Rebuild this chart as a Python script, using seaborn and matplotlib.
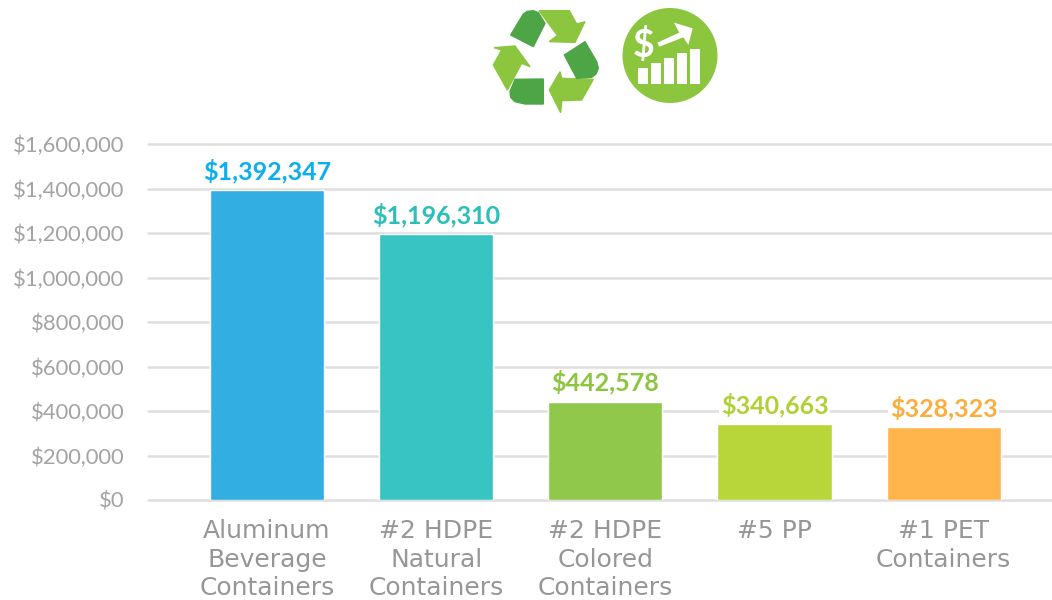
import pandas as pd
import matplotlib.pyplot as plt
from matplotlib.patches import Circle, Polygon, Rectangle
import seaborn as sns

categories = ['Aluminum\nBeverage\nContainers', '#2 HDPE\nNatural\nContainers', '#2 HDPE\nColored\nContainers',
              '#5 PP', '#1 PET\nContainers']
values = [1392347, 1196310, 442578, 340663, 328323]
value_labels = ['$1,392,347', '$1,196,310', '$442,578', '$340,663', '$328,323']
y_ticks = [0, 200000, 400000, 600000, 800000, 1000000, 1200000, 1400000, 1600000]
bar_colors = ['#33AEE3', '#38C4C3', '#90C84C', '#B8D63A', '#FFB44C']
label_colors = ['#0CAEEF', '#2CBFB8', '#8CC63F', '#B0D136', '#FBAE3F']

sns.set_theme(style='white')
plt.rcParams['font.family'] = ['Lato', 'DejaVu Sans']

df = pd.DataFrame({'category': categories, 'value': values})

fig = plt.figure(figsize=(10.52, 6), dpi=100)
ax = fig.add_axes([148 / 1052, 100 / 600, 904 / 1052, 356 / 600])
sns.barplot(data=df, x='category', y='value', hue='category', palette=bar_colors, legend=False,
            width=0.675, saturation=1, ax=ax, zorder=3)

ax.set_xlim(-0.703, 4.64)
ax.set_ylim(0, 1600000)
ax.set_yticks(y_ticks)
ax.set_yticklabels(['${:,}'.format(t) for t in y_ticks], color='#A3A3A3', fontsize=15.8)
ax.tick_params(axis='y', length=0, pad=17)
ax.tick_params(axis='x', length=0, pad=14)
ax.set_xlabel('')
ax.set_ylabel('')
for tick in ax.get_xticklabels():
    tick.set_family(['DejaVu Sans'])
    tick.set_fontsize(18)
    tick.set_color('#969696')
    tick.set_linespacing(1.22)
ax.grid(axis='y', color='#DEDEDE', linewidth=1.8, zorder=0)
for line in ax.get_ygridlines():
    line.set_clip_on(False)
sns.despine(ax=ax, left=True, bottom=True, top=True, right=True)

for i, v in enumerate(values):
    ax.text(i, v + 30000, value_labels[i], ha='center', va='bottom', color=label_colors[i], fontsize=18,
            fontweight='bold', zorder=4, bbox=dict(facecolor='white', edgecolor='none', pad=1.0))

# icons on top, in pixel coordinates
icon = fig.add_axes([0, 0, 1, 1], zorder=5)
icon.set_xlim(0, 1052)
icon.set_ylim(600, 0)
icon.axis('off')
icon.patch.set_alpha(0)

def zoomed(points):
    return [(470 + x / 3, y / 3) for x, y in points]

light = '#8CC63F'
dark = '#4EA546'
arrows = [
    [(207, 32), (298, 32), (320, 72), (345, 65), (315, 127), (238, 125), (262, 106)],
    [(370, 238), (335, 300), (275, 302), (272, 338), (238, 270), (270, 215), (275, 235)],
    [(135, 138), (180, 200), (155, 190), (112, 270), (70, 195), (95, 150), (72, 143)],
]
blocks = [
    [(122, 105), (160, 42), (172, 34), (190, 32), (205, 38), (225, 70), (190, 140)],
    [(283, 165), (345, 125), (380, 185), (385, 205), (378, 222), (365, 232), (320, 235)],
    [(220, 237), (220, 312), (165, 312), (135, 305), (122, 292), (120, 275), (135, 238)],
]
for pts in arrows:
    icon.add_patch(Polygon(zoomed(pts), closed=True, facecolor=light, edgecolor=light, linewidth=1))
for pts in blocks:
    icon.add_patch(Polygon(zoomed(pts), closed=True, facecolor=dark, edgecolor=dark, linewidth=1))

icon.add_patch(Circle((670, 55.5), 47.5, facecolor=light, edgecolor='none'))
for x0, top in [(503, 205), (542, 190), (582, 173), (620, 160), (660, 147)]:
    icon.add_patch(Rectangle((470 + x0 / 3, top / 3), 10, (252 - top) / 3, facecolor='white', edgecolor='none'))
icon.add_patch(Polygon(zoomed([(562, 128), (628, 98), (612, 68), (668, 85), (655, 135), (640, 112), (568, 140)]),
                       closed=True, facecolor='white', edgecolor='none'))
icon.text(470 + 520 / 3, 135 / 3, '$', color='white', fontsize=27, fontweight='bold', ha='center', va='center')

fig.savefig('out.png', dpi=100)
